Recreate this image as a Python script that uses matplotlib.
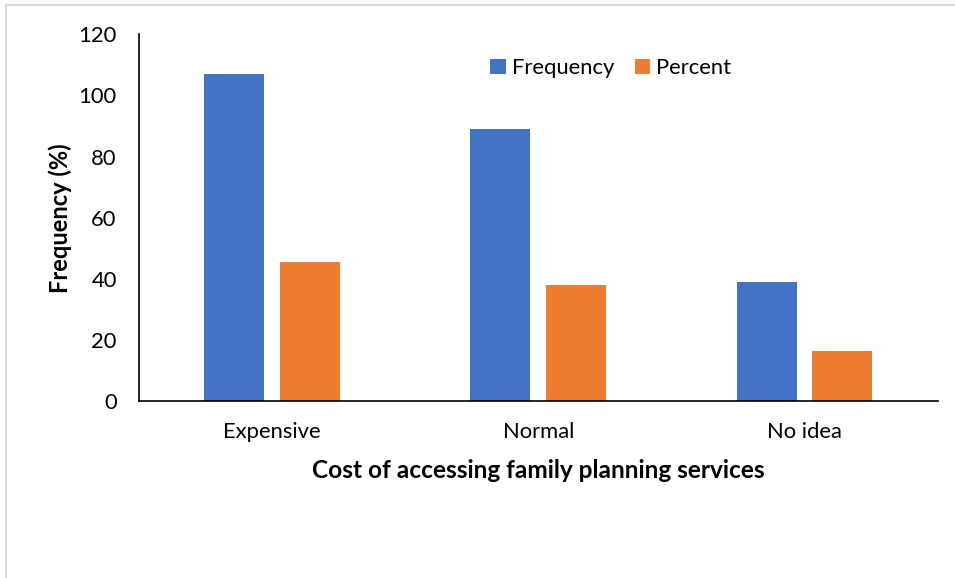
import matplotlib
matplotlib.use("Agg")
import matplotlib.pyplot as plt
import numpy as np
from matplotlib.patches import Rectangle

categories = ["Expensive", "Normal", "No idea"]
frequency = [107, 89, 39]
percent = [45.5, 37.9, 16.6]
yticks = [0, 20, 40, 60, 80, 100, 120]

BLUE = "#4472C4"
ORANGE = "#ED7D31"

plt.rcParams["font.family"] = ["Lato", "DejaVu Sans"]

fig = plt.figure(figsize=(9.55, 5.78), dpi=100)
ax = fig.add_axes([0.1455, 0.3057, 0.8362, 0.635])

# light frame round the chart area
fig.patches.append(
    Rectangle((6 / 955, -0.05), 1.1, 0.05 + 1 - 5 / 578, transform=fig.transFigure,
              fill=False, edgecolor="#d9d9d9", linewidth=1.5)
)

x = np.arange(len(categories))
w = 0.225
off = 0.142
ax.bar(x - off, frequency, w, color=BLUE, label="Frequency")
ax.bar(x + off, percent, w, color=ORANGE, label="Percent")

ax.set_xlim(-0.5, 2.5)
ax.set_ylim(0, 120)
ax.set_yticks(yticks)
ax.set_xticks(x)
ax.set_xticklabels(categories)
ax.tick_params(axis="both", length=0, labelsize=15.8)
ax.tick_params(axis="x", pad=15)
ax.tick_params(axis="y", pad=16)

for s in ("top", "right"):
    ax.spines[s].set_visible(False)
for s in ("left", "bottom"):
    ax.spines[s].set_color("black")
    ax.spines[s].set_linewidth(1.2)

fig.text(0.063, 0.6232, "Frequency (%)", rotation=90, ha="center", va="center",
         fontsize=17, fontweight="bold")
fig.text(0.5634, 1 - 471 / 578, "Cost of accessing family planning services",
         ha="center", va="center", fontsize=17.6, fontweight="bold")

ax.legend(loc="center", bbox_to_anchor=(611 / 955, 1 - 68 / 578),
          bbox_transform=fig.transFigure, ncol=2, frameon=False,
          fontsize=15.8, handlelength=0.7, handleheight=0.7,
          handletextpad=0.3, columnspacing=0.9)

fig.savefig("out.png", dpi=100)
